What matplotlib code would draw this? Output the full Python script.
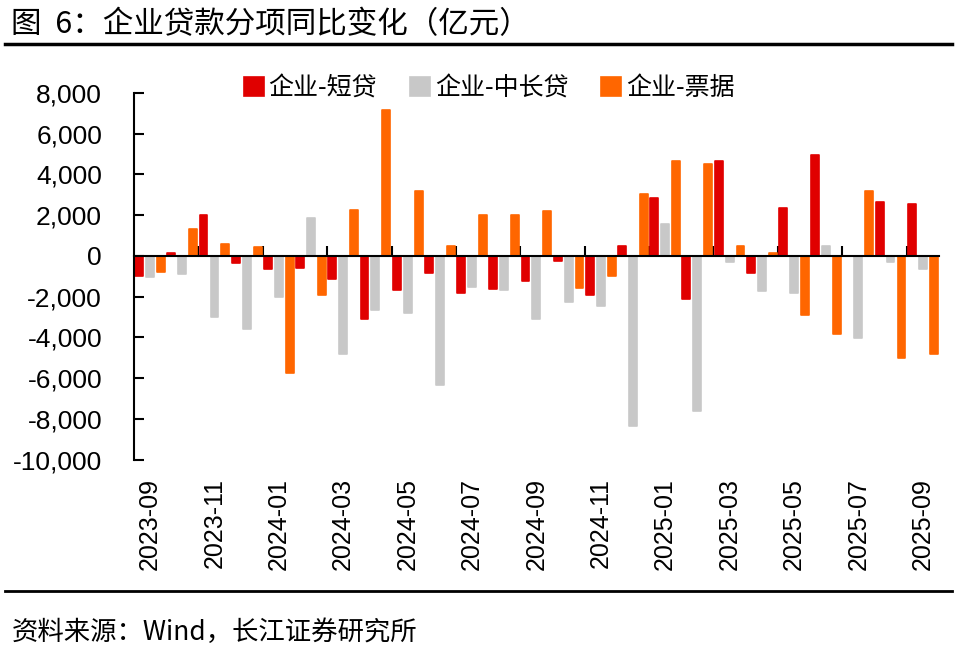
import matplotlib
matplotlib.use("Agg")
import matplotlib.pyplot as plt
import numpy as np
from matplotlib.ticker import FuncFormatter

plt.rcParams['font.family'] = ['Liberation Sans', 'Noto Sans CJK SC', 'DejaVu Sans']

# months 2023-09 .. 2025-09
months = ["2023-09", "2023-10", "2023-11", "2023-12", "2024-01", "2024-02",
          "2024-03", "2024-04", "2024-05", "2024-06", "2024-07", "2024-08",
          "2024-09", "2024-10", "2024-11", "2024-12", "2025-01", "2025-02",
          "2025-03", "2025-04", "2025-05", "2025-06", "2025-07", "2025-08",
          "2025-09"]

# 企业-短贷
short_loans = [-980, 130, 1990, -330, -620, -600, -1110, -3100, -1650, -850,
               -1830, -1600, -1210, -245, -1910, 470, 2860, -2110, 4670, -820,
               2370, 4970, 0, 2650, 2570]
# 企业-中长贷
long_loans = [-1030, -900, -3020, -3600, -2010, 1850, -4820, -2660, -2790, -6320,
              -1520, -1650, -3070, -2240, -2480, -8320, 1550, -7610, -310, -1720,
              -1800, 470, -4020, -310, -620]
# 企业-票据
bills = [-780, 1310, 590, 420, -5720, -1900, 2240, 7160, 3200, 470,
         2030, 2030, 2220, -1590, -980, 3060, 4640, 4510, 470, 130,
         -2920, -3820, 3200, -5030, -4820]

series = [("企业-短贷", short_loans, "#E00000"),
          ("企业-中长贷", long_loans, "#C8C8C8"),
          ("企业-票据", bills, "#FF6600")]

fig = plt.figure(figsize=(9.57, 6.54), dpi=100)
ax = fig.add_axes([0.140, 0.297, 0.841, 0.561])

x = np.arange(len(months))
offsets = [-0.34, 0.0, 0.34]
handles = []
for (name, vals, color), off in zip(series, offsets):
    b = ax.bar(x + off, vals, width=0.245, color=color, edgecolor=color,
               linewidth=1.2, joinstyle='round', label=name, zorder=2)
    handles.append(b)

ax.set_xlim(-0.5, len(months) - 0.5)
ax.set_ylim(-10000, 8000)
ax.set_yticks(np.arange(-10000, 8001, 2000))
ax.yaxis.set_major_formatter(FuncFormatter(lambda v, p: f"{int(v):,}"))
ax.tick_params(axis='y', direction='in', length=7, width=1.5, labelsize=19, pad=23)

for s in ['top', 'right']:
    ax.spines[s].set_visible(False)
ax.spines['left'].set_linewidth(1.5)
ax.spines['bottom'].set_position(('data', 0))
ax.spines['bottom'].set_linewidth(1.5)
ax.spines['bottom'].set_zorder(3)

# tick marks between categories, every two months
ax.set_xticks(np.arange(1.5, len(months) - 1, 2))
ax.set_xticklabels([])
ax.tick_params(axis='x', direction='in', length=7, width=1.5)

# date labels at the bottom of the plot area
sec = ax.secondary_xaxis('bottom')
sec.set_xticks(x[::2])
sec.set_xticklabels(months[::2], rotation=90, fontsize=18)
sec.tick_params(length=0, pad=13)
sec.spines['bottom'].set_visible(False)

fig.legend(handles=handles, loc='center', bbox_to_anchor=(0.511, 0.865),
           ncol=3, frameon=False, handlelength=0.8,
           handleheight=0.8, handletextpad=0.2, columnspacing=1.3,
           prop={'family': ['Noto Sans CJK SC'], 'size': 18})

fig.text(0.012, 0.962, "图  6：企业贷款分项同比变化（亿元）", fontsize=22,
         family=['Noto Sans CJK SC'], va='center', ha='left')
fig.add_artist(plt.Line2D([0.005, 0.995], [0.933, 0.933], color='black', lw=2.5))
fig.add_artist(plt.Line2D([0.005, 0.995], [0.096, 0.096], color='black', lw=2))
fig.text(0.012, 0.033, "资料来源：Wind，长江证券研究所", fontsize=19,
         family=['Noto Sans CJK SC', 'Liberation Sans'], va='center', ha='left')

fig.savefig("out.png", dpi=100)
